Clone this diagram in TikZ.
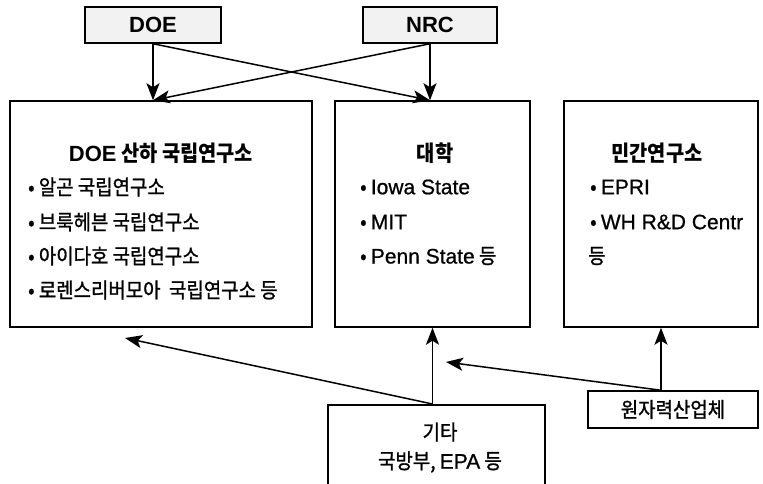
\documentclass[tikz,border=0pt]{standalone}
\usepackage{fontspec}
\setmainfont{Noto Sans CJK KR}[FakeStretch=0.9]
\newfontfamily\krmed{Noto Sans CJK KR}[FakeStretch=0.9,FakeBold=1.2]
\newfontfamily\lat{Liberation Sans}[FakeBold=0.8]
\newfontfamily\latb{Liberation Sans Bold}
\usetikzlibrary{arrows.meta}
\begin{document}
\begin{tikzpicture}[x=1pt,y=-1pt,
  box/.style={draw=black, line width=1.5pt, inner sep=0pt},
  topbox/.style={box, fill=black!5},
  arr/.style={draw=black, line width=1.5pt, -{Stealth[length=17pt,width=13pt,inset=4pt]}},
  ttl/.style={font=\fontsize{22}{26}\selectfont\bfseries, inner sep=0pt},
  itm/.style={font=\fontsize{21}{25}\selectfont\krmed, anchor=west, inner sep=0pt},
  ctr/.style={font=\fontsize{21}{25}\selectfont\krmed, inner sep=0pt},
]
\useasboundingbox (0,0) rectangle (763,484);
% top boxes
\node[topbox, minimum width=136pt, minimum height=36pt] (doe) at (153,25) {};
\node[ttl] (doet) at (doe.center) {\latb DOE};
\node[topbox, minimum width=134pt, minimum height=36pt] (nrc) at (430,25) {};
\node[ttl] (nrct) at (nrc.center) {\latb NRC};
% main boxes
\node[box, minimum width=302pt, minimum height=226pt] (lab) at (161,214) {};
\node[box, minimum width=195pt, minimum height=226pt] (uni) at (432.5,214) {};
\node[box, minimum width=194pt, minimum height=226pt] (priv) at (661,214) {};
% left box text
\node[ttl] (labt) at (161,153) {{\latb DOE} 산하 국립연구소};
\node[itm] (lab1) at (28,187) {• 알곤 국립연구소};
\node[itm] (lab2) at (28,222) {• 브룩헤븐 국립연구소};
\node[itm] (lab3) at (28,256) {• 아이다호 국립연구소};
\node[itm] (lab4) at (28,290) {• 로렌스리버모아\ \ 국립연구소 등};
% middle box text
\node[ttl] (unit) at (435,153) {대학};
\node[itm] (uni1) at (360,187) {• {\lat Iowa State}};
\node[itm] (uni2) at (360,222) {• {\lat MIT}};
\node[itm] (uni3) at (360,256) {• {\lat Penn State} 등};
% right box text
\node[ttl] (privt) at (657,153) {민간연구소};
\node[itm] (priv1) at (590,187) {• {\lat EPRI}};
\node[itm] (priv2) at (590,222) {• {\lat WH R\&D Centr}};
\node[itm] (priv3) at (588,256) {등};
% bottom boxes
\node[box, minimum width=217pt, minimum height=120pt, anchor=north] (etc) at (436.5,404) {};
\node[ctr] (etc1) at (440,432) {기타};
\node[ctr] (etc2) at (440,462) {국방부, {\lat EPA} 등};
\node[box, minimum width=170pt, minimum height=37pt] (ind) at (673,409.5) {};
\node[ctr] (indt) at (ind.center) {원자력산업체};
% arrows top
\draw[arr] (doe.south) -- (doe.south |- lab.north);
\draw[arr] (doe.south) -- (nrc.south |- uni.north);
\draw[arr] (nrc.south) -- (nrc.south |- uni.north);
\draw[arr] (nrc.south) -- (doe.south |- lab.north);
% arrows bottom
\coordinate (t1) at (125,338);
\coordinate (t2) at (446,362);
\draw[arr] (uni.south |- etc.north) -- (uni.south);
\draw[arr] (uni.south |- etc.north) -- (t1);
\draw[arr] (priv.south |- ind.north) -- (priv.south);
\draw[arr] (priv.south |- ind.north) -- (t2);
\end{tikzpicture}
\end{document}
